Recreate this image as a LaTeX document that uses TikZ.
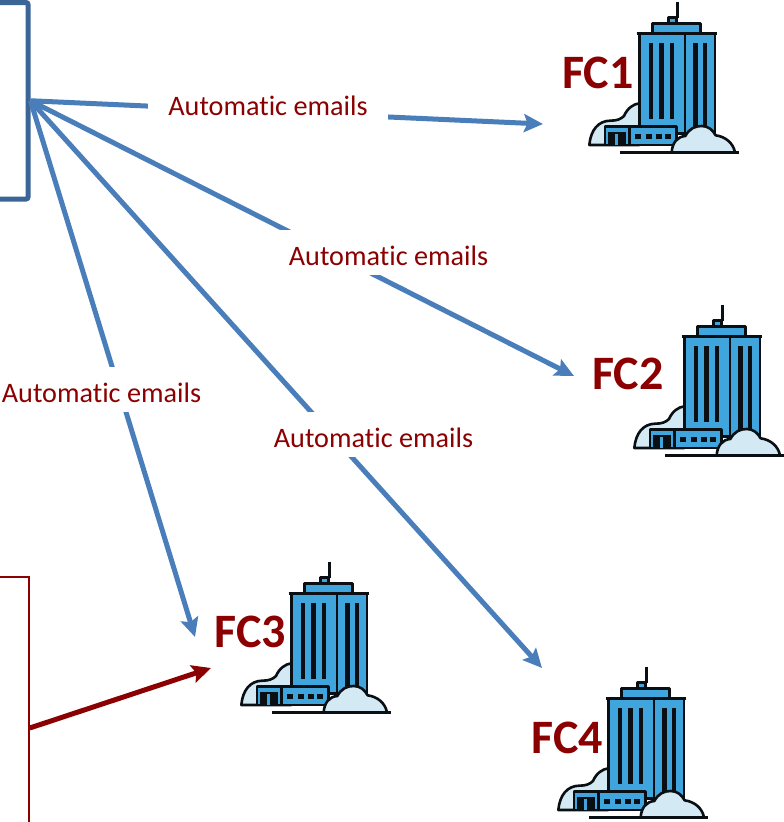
\documentclass[tikz,border=0pt]{standalone}
\usepackage{fontspec}
\setmainfont[RawFeature=-liga]{Carlito}
\usetikzlibrary{arrows.meta}
\definecolor{frameblue}{HTML}{3B6497}
\definecolor{linkblue}{HTML}{4A7EBB}
\definecolor{darkred}{HTML}{8B0000}
\definecolor{towerblue}{HTML}{3FA5DC}
\definecolor{cloudblue}{HTML}{D3E9F4}
\definecolor{inkblack}{HTML}{0A0F14}
\newcommand{\maillower}[1]{\raisebox{-13pt}[0pt][0pt]{#1}}
\tikzset{
  bline/.style={draw=inkblack,line width=2.6pt,line join=round},
  link/.style={draw=linkblue,line width=5pt,-{Stealth[length=19pt,width=18pt,inset=3.5pt]}},
  redlink/.style={draw=darkred,line width=5pt,-{Stealth[length=19pt,width=18pt,inset=3.5pt]}},
  maillabel/.style={fill=white,text=darkred,font=\fontsize{28.2}{32}\selectfont,inner xsep=20pt,inner ysep=0pt,minimum height=45pt},
  fclabel/.style={text=darkred,font=\fontsize{48}{54}\selectfont\bfseries,inner sep=0pt},
  bluebox/.style={draw=frameblue,line width=5pt,rounded corners=2pt,minimum width=400pt,minimum height=196.5pt,inner sep=0pt},
  redbox/.style={draw=darkred,line width=1.5pt,minimum width=400pt,minimum height=302pt,inner sep=0pt},
  building/.pic={
    \begin{scope}[x=0.3333pt,y=-0.3333pt]
      \draw[bline,fill=cloudblue] (28,435) .. controls (32,390) and (55,362) .. (92,362)
        .. controls (110,362) and (122,358) .. (132,348)
        .. controls (142,325) and (160,312) .. (178,310) -- (178,435) -- cycle;
      \draw[bline] (293,5) -- (293,55);
      \draw[bline,fill=towerblue] (265,52) rectangle (290,70);
      \draw[bline,fill=towerblue] (217,70) rectangle (362,100);
      \draw[bline,fill=towerblue] (178,100) rectangle (405,400);
      \draw[bline] (170,100) -- (412,100);
      \draw[bline] (315,100) -- (315,400);
      \foreach \wx in {213,245,276} \fill[inkblack] (\wx-7,130) rectangle (\wx+7,357);
      \foreach \wx in {346,375} \fill[inkblack] (\wx-7,130) rectangle (\wx+7,380);
      \draw[bline,fill=towerblue] (75,380) rectangle (290,435);
      \draw[bline] (148,380) -- (148,435);
      \fill[inkblack] (85,396) rectangle (137,435);
      \fill[towerblue] (106,403) rectangle (114,435);
      \foreach \wx in {165,198,229,255} \fill[inkblack] (\wx,403) rectangle (\wx+17,418);
      \draw[bline,fill=cloudblue] (275,457) .. controls (277,428) and (292,410) .. (316,408)
        .. controls (328,386) and (345,378) .. (365,378)
        .. controls (385,378) and (398,390) .. (407,406)
        .. controls (437,410) and (460,430) .. (465,457) -- cycle;
      \draw[bline] (120,457) -- (476,457);
    \end{scope}
  }
}
\begin{document}
\begin{tikzpicture}[x=1pt,y=-1pt]
  \useasboundingbox (0,0) rectangle (784,822);
  \clip (0,0) rectangle (784,822);
  \fill[white] (0,0) rectangle (784,822);

  \pic at (580,0) {building};
  \pic at (625,303) {building};
  \pic at (232,560) {building};
  \pic at (549,665) {building};

  \node[bluebox] (src) at (-172,100.75) {};
  \node[redbox] (dst) at (-171,728) {};

  \coordinate (t1) at (543,124);
  \coordinate (t2) at (574,376);
  \coordinate (t3) at (195,637);
  \coordinate (t4) at (542,668);
  \coordinate (t5) at (211,668);

  \draw[link] (src.east) -- (t1);
  \draw[link] (src.east) -- (t2);
  \draw[link] (src.east) -- (t3);
  \draw[link] (src.east) -- (t4);
  \draw[redlink] (dst.east) -- (t5);

  \node[maillabel] (m1) at (268,102) {\maillower{Automatic emails}};
  \node[maillabel] (m2) at (388.5,252) {\maillower{Automatic emails}};
  \node[maillabel] (m3) at (101.5,389) {\maillower{Automatic emails}};
  \node[maillabel] (m4) at (373.5,434) {\maillower{Automatic emails}};

  \node[fclabel] (fc1) at (598,73) {FC1};
  \node[fclabel] (fc2) at (628,374) {FC2};
  \node[fclabel] (fc3) at (250.5,632) {FC3};
  \node[fclabel] (fc4) at (567.5,738) {FC4};
\end{tikzpicture}
\end{document}
